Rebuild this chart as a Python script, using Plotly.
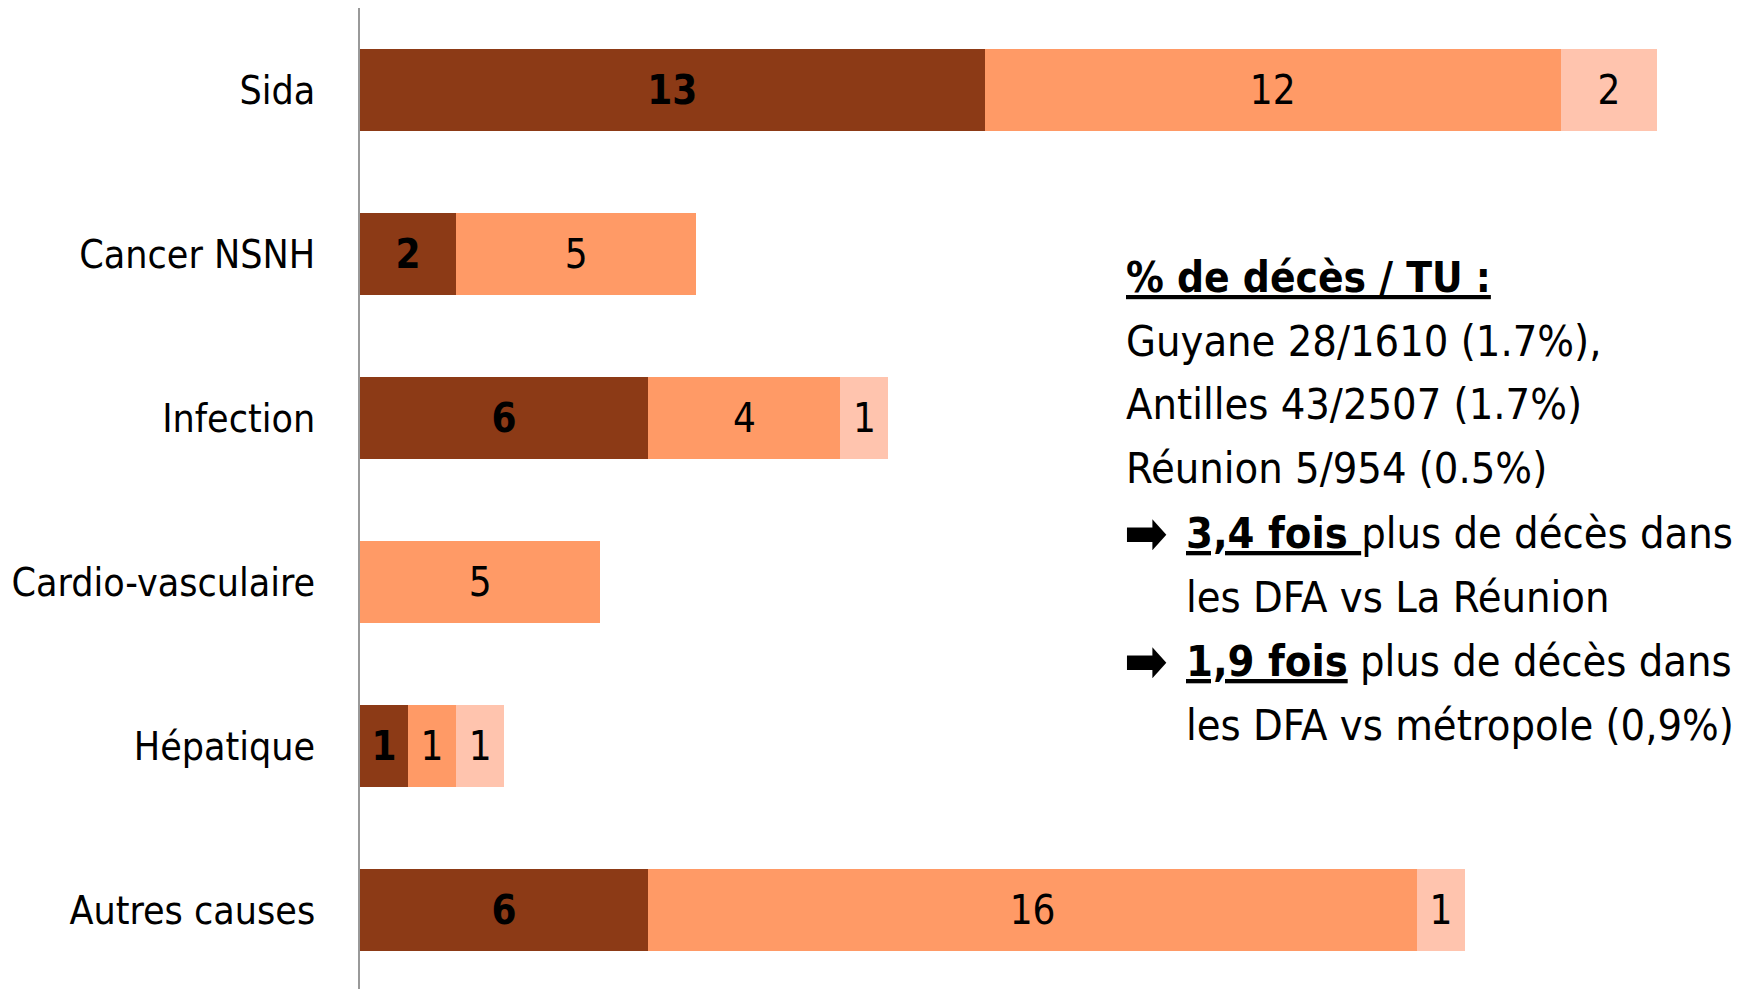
import plotly.graph_objects as go

categories = ["Sida", "Cancer NSNH", "Infection", "Cardio-vasculaire", "Hépatique", "Autres causes"]
series_names = ["Guyane", "Antilles", "Réunion"]
guyane = [13, 2, 6, 0, 1, 6]
antilles = [12, 5, 4, 5, 1, 16]
reunion = [2, 0, 1, 0, 1, 1]
series_values = [guyane, antilles, reunion]
colors = ["#8C3A16", "#FF9A66", "#FFC4AE"]

FONT = "Liberation Sans Narrow, Arial Narrow, DejaVu Sans Condensed, Roboto Condensed, sans-serif"
FS = 40
FT = 39
FA = 43
W, H = 1752, 989
OFF = 8  # page body offset
ML, MR, MT, MB = 352, 0, 0, 5

fig = go.Figure()
for i, (name, vals) in enumerate(zip(series_names, series_values)):
    xs = [v if v else None for v in vals]
    txt = [(f"<b>{v}</b>" if i == 0 else str(v)) if v else "" for v in vals]
    fig.add_trace(go.Bar(
        y=categories, x=xs, name=name, orientation="h",
        marker=dict(color=colors[i], line=dict(width=0)),
        text=txt, textposition="inside", insidetextanchor="middle",
        textangle=0, constraintext="none",
        insidetextfont=dict(family=FONT, size=FS, color="black"),
        hoverinfo="skip",
    ))

fig.update_layout(
    barmode="stack",
    bargap=0.495,
    width=W, height=H,
    margin=dict(l=ML, r=MR, t=MT, b=MB, pad=0, autoexpand=False),
    plot_bgcolor="white", paper_bgcolor="white",
    showlegend=False,
    font=dict(family=FONT, size=FS, color="black"),
    xaxis=dict(range=[0, (W - ML - MR) / 48.04], visible=False, fixedrange=True,
               automargin=False),
    yaxis=dict(autorange="reversed", showline=True, linecolor="#999999", linewidth=2,
               ticks="", showgrid=False, ticklabelstandoff=35, automargin=False,
               tickfont=dict(family=FONT, size=FT, color="black")),
)

pw = W - ML - MR
ph = H - MT - MB
def px(x):
    return (x - OFF - ML) / pw
def py(y):
    return 1 - (y - OFF - MT) / ph

lines = [
    (1124, 277, "<b><u>% de décès / TU :</u></b>", FA - 1),
    (1124, 341, "Guyane 28/1610 (1.7%),", FA),
    (1124, 404, "Antilles 43/2507 (1.7%)", FA),
    (1124, 468, "Réunion 5/954 (0.5%)", FA),
    (1122, 533, "<b>➡</b>", 58),
    (1184, 533, "<u><b>3,4 fois </b></u>plus de décès dans", FA),
    (1184, 597, "les DFA vs La Réunion", FA),
    (1122, 661, "<b>➡</b>", 58),
    (1184, 661, "<u><b>1,9 fois</b></u> plus de décès dans", FA),
    (1184, 725, "les DFA vs métropole (0,9%)", FA),
]
for x, y, t, s in lines:
    fig.add_annotation(x=px(x), y=py(y), xref="paper", yref="paper",
                       xanchor="left", yanchor="middle", text=t, showarrow=False,
                       font=dict(family=FONT, size=s, color="black"), align="left")

fig.write_html("out.html")
